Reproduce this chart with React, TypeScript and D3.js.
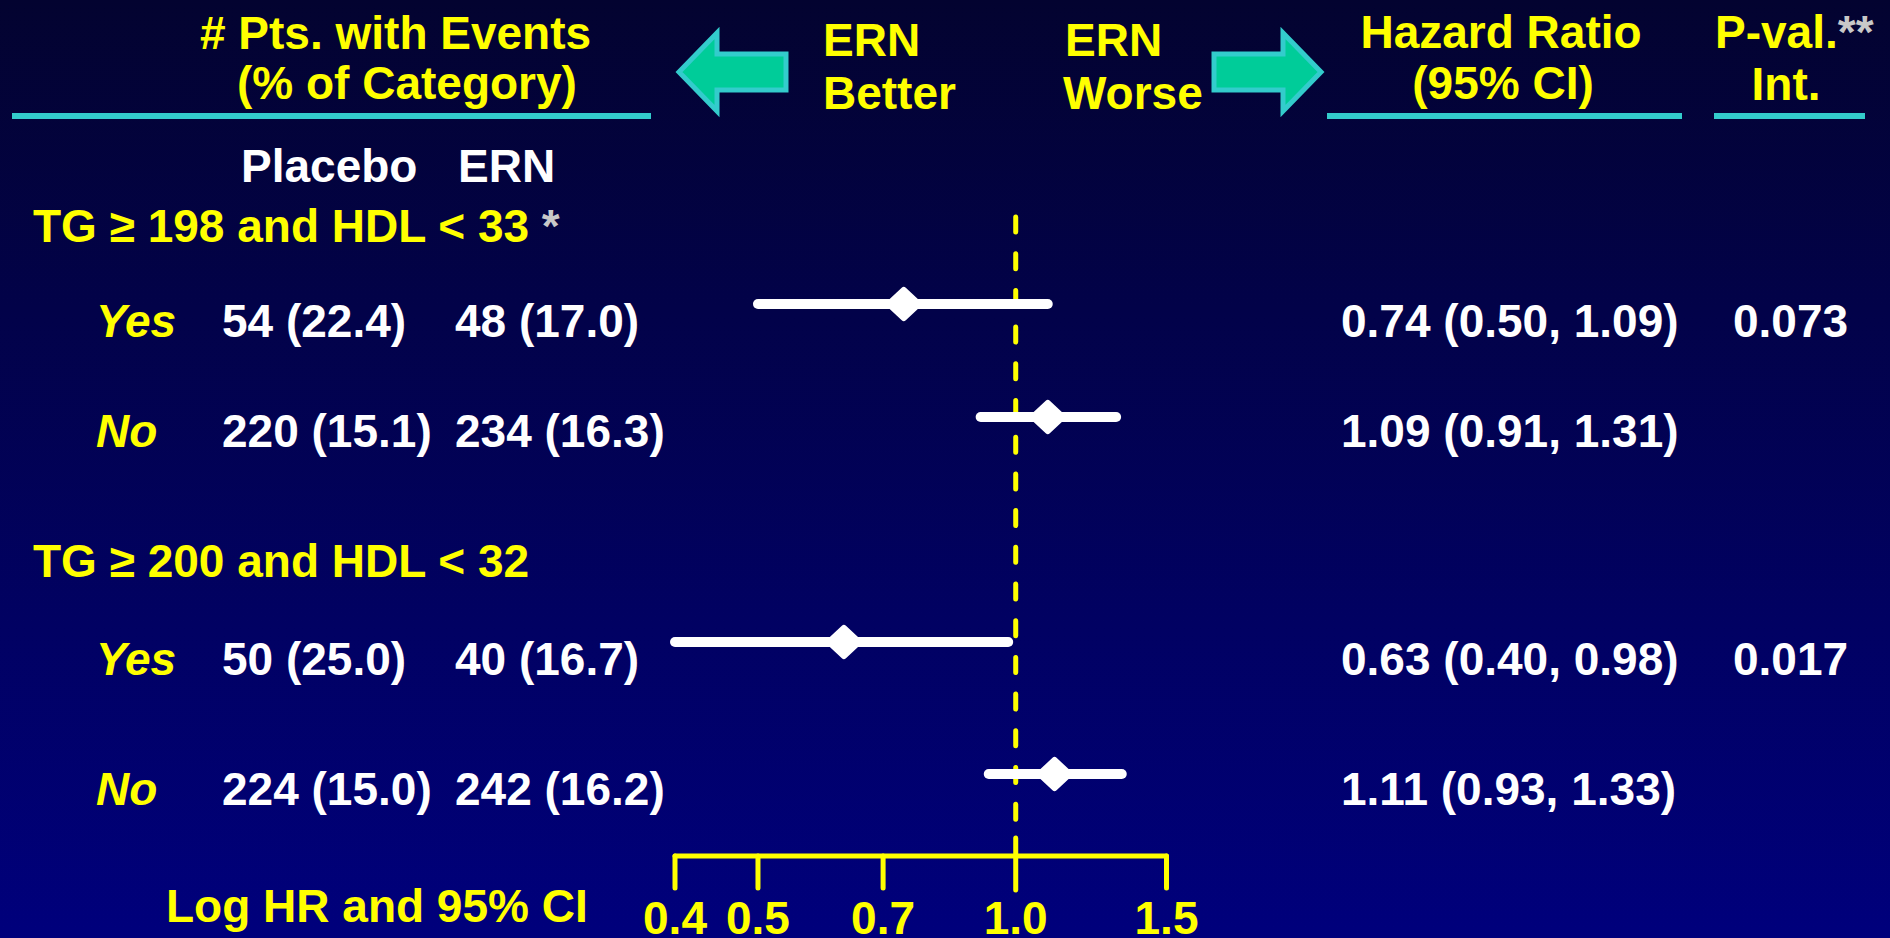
import React from "react";
import * as d3 from "d3";

// Subgroup analysis: events and hazard ratios, ERN vs placebo
const groupLabels = ["TG ≥ 198 and HDL < 33", "TG ≥ 200 and HDL < 32"];
const groupNotes = ["*", ""];
const subgroupLabels = ["Yes", "No", "Yes", "No"];
const placeboEvents = [54, 220, 50, 224];
const placeboPct = [22.4, 15.1, 25.0, 15.0];
const ernEvents = [48, 234, 40, 242];
const ernPct = [17.0, 16.3, 16.7, 16.2];
const hazardRatio = [0.74, 1.09, 0.63, 1.11];
const ciLower = [0.5, 0.91, 0.4, 0.93];
const ciUpper = [1.09, 1.31, 0.98, 1.33];
const pInteraction = ["0.073", "", "0.017", ""];
const axisTicks = [0.4, 0.5, 0.7, 1.0, 1.5];

const W = 1890;
const H = 938;
const YELLOW = "#FFFF00";
const WHITE = "#FFFFFF";
const TEAL = "#33CCCC";
const ARROW_FILL = "#00CC99";
const GREY = "#C8C8C8";
const FONT = "'Liberation Sans', Arial, Helvetica, sans-serif";
const FS = 46;

// vertical layout
const groupBaselines = [242, 577];
const rowBaselines = [337, 447, 675, 805];
const ciY = [304, 417, 642, 774];
const axisY = 856;

const x = d3.scaleLog().domain([0.4, 1.5]).range([675, 1166.5]);

const fmt1 = d3.format(".1f");
const fmt2 = d3.format(".2f");

function Arrow({ dir }: { dir: "left" | "right" }) {
  // arrow spanning ~111px: head 40px long, shaft 71px
  const tipX = dir === "left" ? 679 : 1321;
  const s = dir === "left" ? 1 : -1;
  const cy = 72;
  const pts: [number, number][] = [
    [tipX, cy],
    [tipX + s * 38, cy - 39],
    [tipX + s * 38, cy - 18],
    [tipX + s * 107, cy - 18],
    [tipX + s * 107, cy + 18],
    [tipX + s * 38, cy + 18],
    [tipX + s * 38, cy + 39],
  ];
  const line = d3.line();
  return (
    <path
      d={line(pts) + "Z"}
      fill={ARROW_FILL}
      stroke={TEAL}
      strokeWidth={5}
      strokeLinejoin="miter"
    />
  );
}

export default function App() {
  const textProps = {
    fontFamily: FONT,
    fontWeight: 700,
    fontSize: FS,
  };
  const diamond = (cx: number, cy: number) =>
    d3.line()([
      [cx - 15, cy],
      [cx, cy - 14],
      [cx + 15, cy],
      [cx, cy + 14],
    ]) + "Z";

  return (
    <svg
      width={W}
      height={H}
      style={{ position: "absolute", left: 0, top: 0, display: "block" }}
    >
      <defs>
        <linearGradient id="bg" x1="0" y1="0" x2="0" y2="1">
          <stop offset="0%" stopColor="#030330" />
          <stop offset="100%" stopColor="#00007C" />
        </linearGradient>
      </defs>
      <rect x={0} y={0} width={W} height={H} fill="url(#bg)" />

      {/* column headers */}
      <g {...textProps} fill={YELLOW}>
        <text x={200} y={49}># Pts. with Events</text>
        <text x={237} y={99}>(% of Category)</text>
        <text x={823} y={56}>ERN</text>
        <text x={823} y={109}>Better</text>
        <text x={1065} y={56}>ERN</text>
        <text x={1063} y={109}>Worse</text>
        <text x={1501} y={48} textAnchor="middle">Hazard Ratio</text>
        <text x={1503} y={99} textAnchor="middle">(95% CI)</text>
        <text x={1715} y={48}>
          P-val.<tspan fill={GREY}>**</tspan>
        </text>
        <text x={1786} y={100} textAnchor="middle">Int.</text>
      </g>
      <Arrow dir="left" />
      <Arrow dir="right" />
      <g stroke={TEAL} strokeWidth={6}>
        <line x1={12} x2={651} y1={116} y2={116} />
        <line x1={1327} x2={1682} y1={116} y2={116} />
        <line x1={1714} x2={1865} y1={116} y2={116} />
      </g>

      <g {...textProps} fill={WHITE}>
        <text x={241} y={182}>Placebo</text>
        <text x={458} y={182}>ERN</text>
      </g>

      {/* reference line at HR = 1 */}
      <line
        x1={x(1)}
        x2={x(1)}
        y1={217}
        y2={836}
        stroke={YELLOW}
        strokeWidth={5}
        strokeDasharray="15 21.7"
        strokeLinecap="round"
      />

      {/* group headings */}
      {groupLabels.map((g, i) => (
        <text key={g} {...textProps} x={33} y={groupBaselines[i]} fill={YELLOW}>
          {g}
          {groupNotes[i] && <tspan fill={GREY}>{" " + groupNotes[i]}</tspan>}
        </text>
      ))}

      {/* subgroup rows */}
      {subgroupLabels.map((s, i) => (
        <g key={i}>
          <text
            {...textProps}
            x={96}
            y={rowBaselines[i]}
            fill={YELLOW}
            fontStyle="italic"
          >
            {s}
          </text>
          <text {...textProps} x={222} y={rowBaselines[i]} fill={WHITE}>
            {`${placeboEvents[i]} (${fmt1(placeboPct[i])})`}
          </text>
          <text {...textProps} x={455} y={rowBaselines[i]} fill={WHITE}>
            {`${ernEvents[i]} (${fmt1(ernPct[i])})`}
          </text>
          <text {...textProps} x={1341} y={rowBaselines[i]} fill={WHITE}>
            {`${fmt2(hazardRatio[i])} (${fmt2(ciLower[i])}, ${fmt2(ciUpper[i])})`}
          </text>
          {pInteraction[i] && (
            <text {...textProps} x={1733} y={rowBaselines[i]} fill={WHITE}>
              {pInteraction[i]}
            </text>
          )}
          <line
            x1={x(ciLower[i])}
            x2={x(ciUpper[i])}
            y1={ciY[i]}
            y2={ciY[i]}
            stroke={WHITE}
            strokeWidth={10}
            strokeLinecap="round"
          />
          <path
            d={diamond(x(hazardRatio[i]), ciY[i])}
            fill={WHITE}
            stroke={WHITE}
            strokeWidth={6}
            strokeLinejoin="round"
          />
        </g>
      ))}

      {/* log-scale axis */}
      <g stroke={YELLOW} strokeWidth={5} strokeLinecap="round" fill="none">
        <line x1={x(0.4)} x2={x(1.5)} y1={axisY} y2={axisY} />
        {axisTicks.map((t) => (
          <line
            key={t}
            x1={x(t)}
            x2={x(t)}
            y1={t === 1 ? 838 : axisY}
            y2={t === 1 ? 890 : 888}
          />
        ))}
      </g>
      <g {...textProps} fill={YELLOW} textAnchor="middle">
        {axisTicks.map((t) => (
          <text key={t} x={x(t)} y={934}>
            {fmt1(t)}
          </text>
        ))}
      </g>
      <text {...textProps} x={166} y={922} fill={YELLOW}>
        Log HR and 95% CI
      </text>
    </svg>
  );
}
